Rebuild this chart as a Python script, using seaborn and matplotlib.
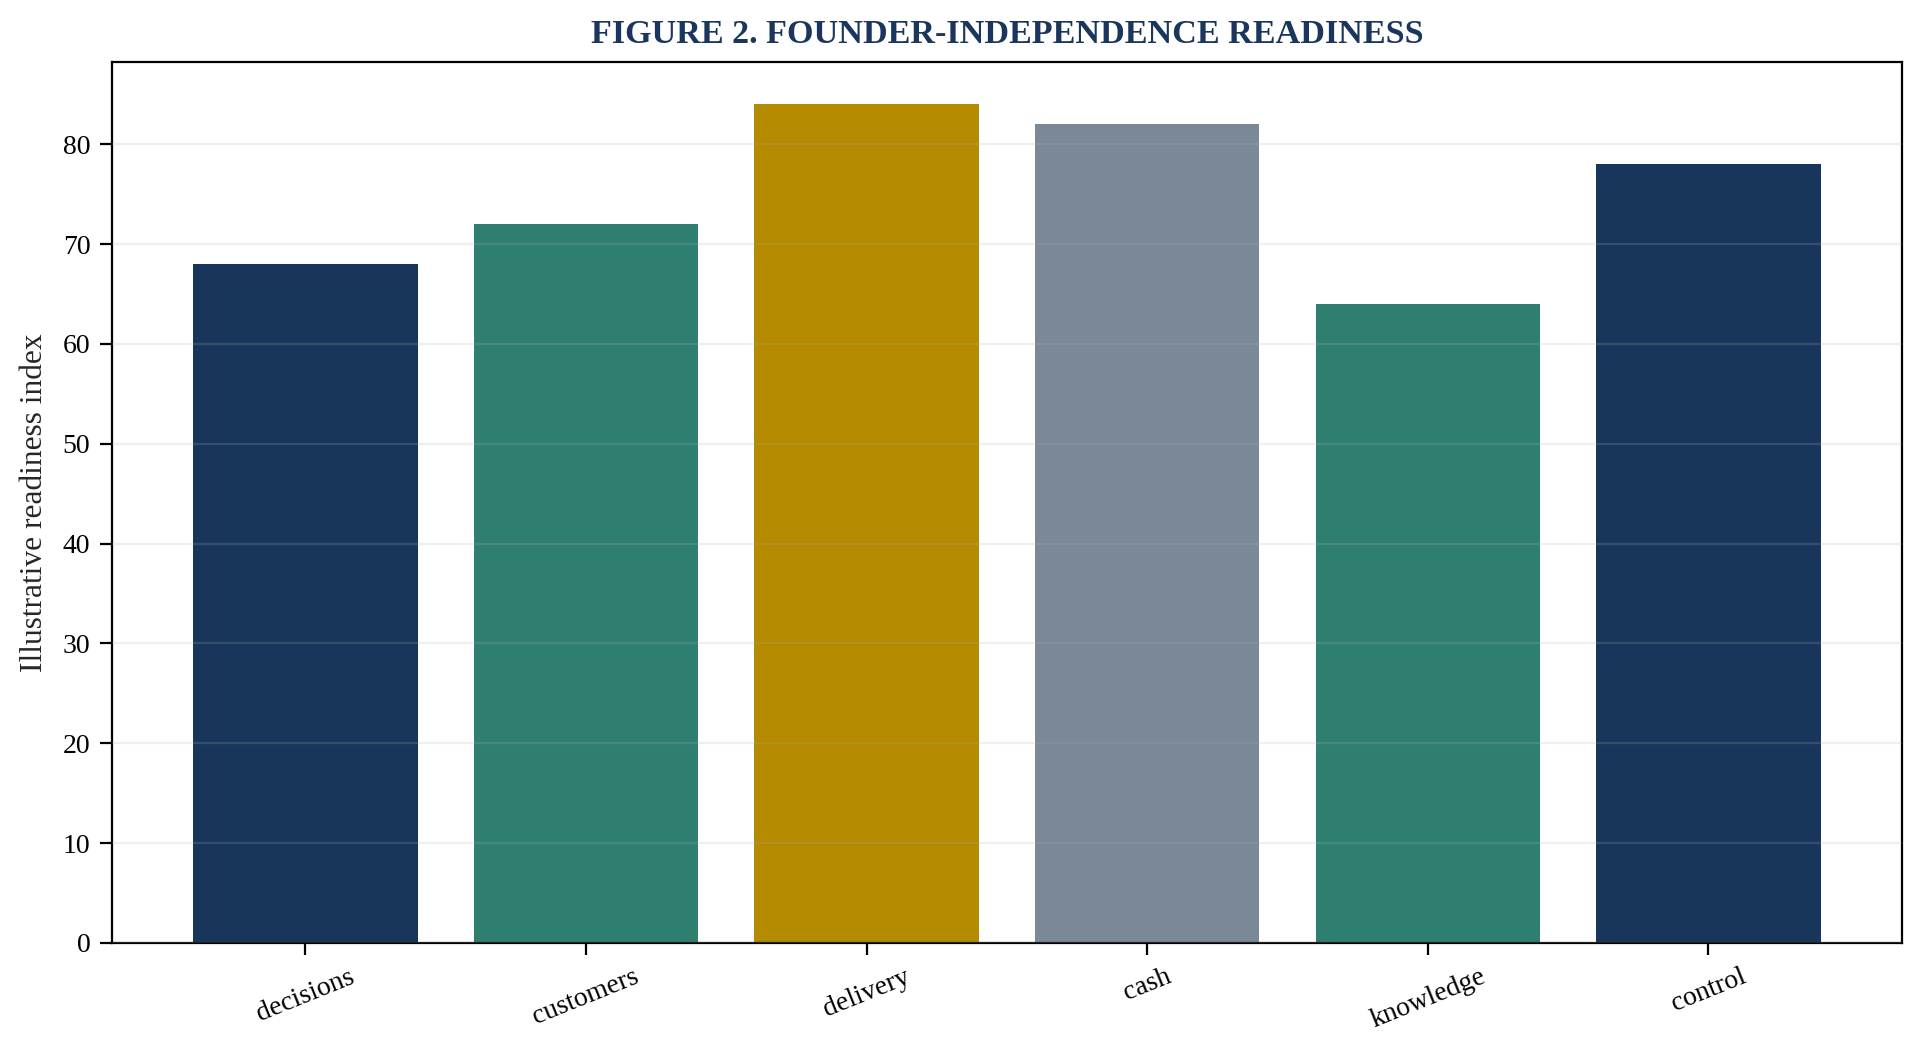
import matplotlib
matplotlib.use("Agg")
import matplotlib.pyplot as plt
import seaborn as sns
import pandas as pd

categories = ["decisions", "customers", "delivery", "cash", "knowledge", "control"]
values = [68, 72, 84, 82, 64, 78]
bar_colors = ["#18365c", "#2e7f6f", "#b38a00", "#7a8898", "#2e7f6f", "#18365c"]
title = "FIGURE 2. FOUNDER-INDEPENDENCE READINESS"
ylabel = "Illustrative readiness index"

sns.set_theme(style="white")
plt.rcParams["font.family"] = ["Liberation Serif", "DejaVu Serif"]

df = pd.DataFrame({"category": categories, "value": values})

fig = plt.figure(figsize=(9.62, 5.285), dpi=200)
ax = fig.add_axes([0.0581, 0.108, 0.9305, 0.833])

sns.barplot(data=df, x="category", y="value", hue="category", palette=bar_colors,
            legend=False, width=0.8, saturation=1, linewidth=0, edgecolor="none", ax=ax)

ax.set_xlim(-0.69, 5.69)
ax.set_ylim(0, 88.2)
ax.set_xlabel("")
ax.set_ylabel(ylabel, fontsize=11.3, labelpad=5)
ax.set_title(title, fontsize=12.3, fontweight="bold", color="#1a365d", pad=7)

ax.set_axisbelow(False)
ax.yaxis.grid(True, color="#b0b0b0", alpha=0.2, linewidth=0.8)
ax.xaxis.grid(False)

for s in ax.spines.values():
    s.set_visible(True)
    s.set_color("black")
    s.set_linewidth(0.8)

ax.tick_params(axis="both", which="major", length=4.2, width=0.8, color="black",
               labelsize=10, left=True, bottom=True, labelcolor="black")
plt.setp(ax.get_xticklabels(), rotation=22, ha="center")

fig.savefig("out.png", dpi=200)
